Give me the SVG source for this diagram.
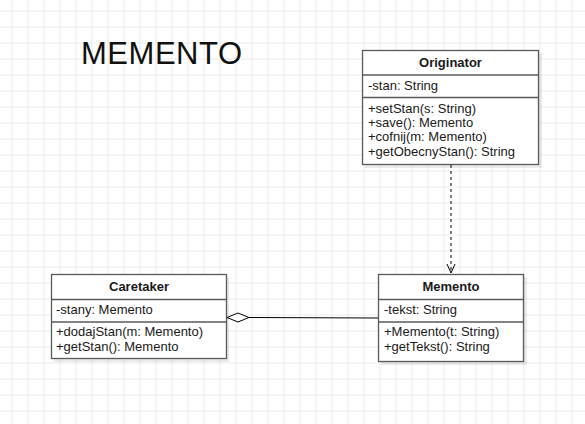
<svg xmlns="http://www.w3.org/2000/svg" width="585" height="424" viewBox="0 0 585 424">
<defs>
<pattern id="grid" x="11.5" y="10.5" width="16" height="16" patternUnits="userSpaceOnUse">
<path d="M0 0.5H16M0.5 0V16" fill="none" stroke="#ebebeb" stroke-width="1"/>
</pattern>
<marker id="open" markerWidth="12" markerHeight="12" refX="10" refY="5" orient="auto" markerUnits="userSpaceOnUse">
<path d="M1 1L10 5L1 9" fill="none" stroke="#000" stroke-width="1"/>
</marker>
</defs>
<style>
.box{fill:#fff;stroke:#5a5a5a;stroke-width:1.3}
.shadow{fill:#000;opacity:0.08}
.sep{stroke:#5a5a5a;stroke-width:1.3}
text{font-family:"Liberation Sans",Arial,sans-serif;font-size:13px;fill:#1a1a1a}
.h{font-weight:bold;text-anchor:middle}
</style>
<rect width="585" height="424" fill="#fff"/>
<rect x="-0.5" y="-0.5" width="586" height="425" fill="url(#grid)"/>
<text x="81" y="63.5" style="font-size:31px;fill:#111" textLength="161">MEMENTO</text>

<g id="originator">
<rect class="shadow" x="365" y="53" width="177" height="115"/>
<rect class="box" x="362.5" y="50.5" width="176" height="114"/>
<line class="sep" x1="362.5" y1="75" x2="538.5" y2="75"/>
<line class="sep" x1="362.5" y1="97.5" x2="538.5" y2="97.5"/>
<text class="h" x="450.5" y="67">Originator</text>
<text x="368" y="89.5">-stan: String</text>
<text x="368" y="113">+setStan(s: String)</text>
<text x="368" y="127">+save(): Memento</text>
<text x="368" y="141">+cofnij(m: Memento)</text>
<text x="368" y="155.5">+getObecnyStan(): String</text>
</g>

<g id="caretaker">
<rect class="shadow" x="54" y="277" width="175" height="85"/>
<rect class="box" x="51.5" y="274.5" width="175" height="84"/>
<line class="sep" x1="51.5" y1="299.5" x2="226.5" y2="299.5"/>
<line class="sep" x1="51.5" y1="322" x2="226.5" y2="322"/>
<text class="h" x="139" y="291">Caretaker</text>
<text x="56" y="314">-stany: Memento</text>
<text x="56" y="336">+dodajStan(m: Memento)</text>
<text x="56" y="351">+getStan(): Memento</text>
</g>

<g id="memento">
<rect class="shadow" x="381" y="277" width="146" height="88"/>
<rect class="box" x="378.5" y="274.5" width="145" height="87"/>
<line class="sep" x1="378.5" y1="299.5" x2="523.5" y2="299.5"/>
<line class="sep" x1="378.5" y1="322" x2="523.5" y2="322"/>
<text class="h" x="451" y="291">Memento</text>
<text x="384" y="314">-tekst: String</text>
<text x="384" y="336">+Memento(t: String)</text>
<text x="384" y="350.5">+getTekst(): String</text>
</g>

<g id="connectors">
<line x1="451" y1="165" x2="451" y2="273" stroke="#000" stroke-width="1" stroke-dasharray="3,3" marker-end="url(#open)"/>
<line x1="249" y1="317.5" x2="378" y2="318" stroke="#000" stroke-width="1"/>
<path d="M227 317.5L238 313L249 317.5L238 322Z" fill="#fff" stroke="#000" stroke-width="1"/>
</g>
</svg>
